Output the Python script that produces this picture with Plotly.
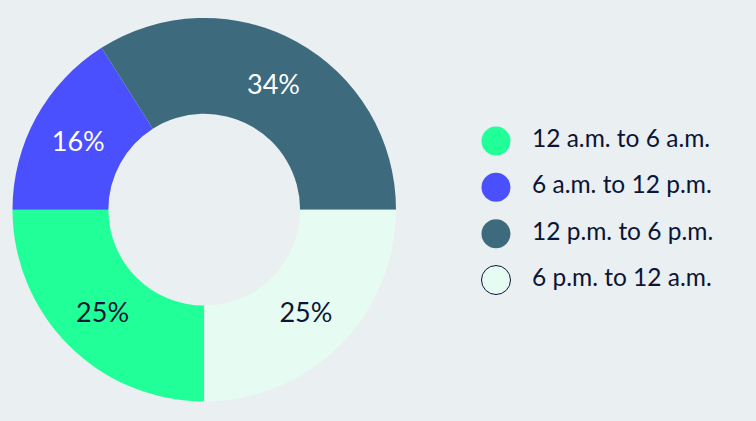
import plotly.graph_objects as go

categories = ["12 a.m. to 6 a.m.", "6 a.m. to 12 p.m.", "12 p.m. to 6 p.m.", "6 p.m. to 12 a.m."]
values = [25, 16, 34, 25]
colors = ["#21FF99", "#4B50FF", "#3D6A7D", "#E6FCF2"]
label_colors = ["#0C1535", "#FFFFFF", "#FFFFFF", "#0C1535"]
legend_lines = ["rgba(0,0,0,0)", "rgba(0,0,0,0)", "rgba(0,0,0,0)", "#0C1535"]

BG = "#EAEFF2"
FONT = "Lato, 'Open Sans', sans-serif"

fig = go.Figure()

fig.add_trace(go.Pie(
    labels=categories,
    values=values,
    hole=0.5,
    sort=False,
    direction="clockwise",
    rotation=180,
    marker=dict(colors=colors, line=dict(width=0)),
    textinfo="percent",
    texttemplate="%{percent:.0%}",
    textposition="inside",
    insidetextorientation="horizontal",
    textfont=dict(family=FONT, size=27, color=label_colors),
    showlegend=False,
    domain=dict(x=[12.5 / 756, 396 / 756], y=[1 - 401.7 / 421, 1 - 17.7 / 421]),
    hoverinfo="label+percent",
))

# custom legend: circles
fig.add_trace(go.Scatter(
    x=[0] * len(categories),
    y=categories,
    mode="markers",
    marker=dict(size=29, color=colors, line=dict(width=1, color=legend_lines)),
    showlegend=False,
    hoverinfo="skip",
    xaxis="x", yaxis="y",
))
fig.add_trace(go.Scatter(
    x=[1] * len(categories),
    y=categories,
    mode="text",
    text=categories,
    textposition="middle right",
    textfont=dict(family=FONT, size=24.5, color="#0C1535"),
    showlegend=False,
    hoverinfo="skip",
    xaxis="x", yaxis="y",
))

px0 = 453.6
fig.update_layout(
    width=756, height=421,
    margin=dict(l=0, r=0, t=0, b=0),
    paper_bgcolor=BG, plot_bgcolor=BG,
    font=dict(family=FONT, color="#0C1535"),
    xaxis=dict(domain=[px0 / 756, 1], range=[-(496 - px0) / 36.0, (756 - 496) / 36.0],
               visible=False, fixedrange=True),
    yaxis=dict(domain=[1 - 303.2 / 421, 1 - 117.8 / 421], range=[3.5, -0.5],
               type="category", visible=False, fixedrange=True),
)

fig.write_html("out.html", config={"displayModeBar": False},
               post_script="document.body.style.margin='0';")
